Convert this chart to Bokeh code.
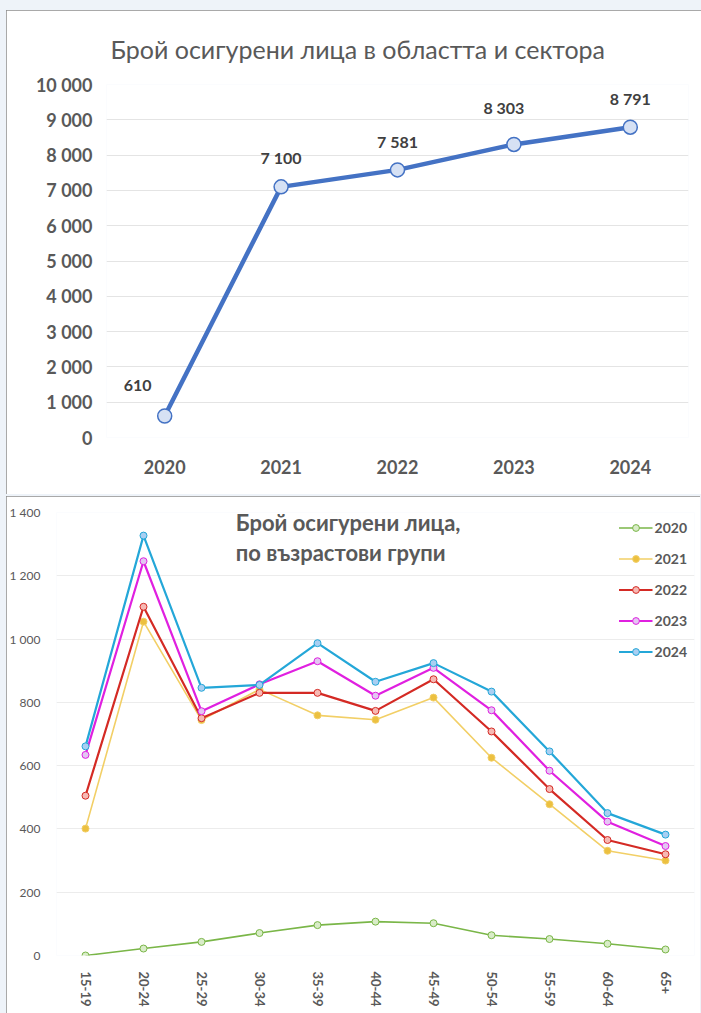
from bokeh.plotting import figure
from bokeh.layouts import column
from bokeh.models import (ColumnDataSource, FactorRange, Range1d, FixedTicker,
                          Legend, LegendItem, Label)
from bokeh.core.properties import value
from bokeh.embed import file_html
from bokeh.resources import INLINE

# --- Insured persons in the region and sector, by year ---
years = ["2020", "2021", "2022", "2023", "2024"]
insured_total = [610, 7100, 7581, 8303, 8791]

total_ticks = [0, 1000, 2000, 3000, 4000, 5000, 6000, 7000, 8000, 9000, 10000]
total_tick_labels = ["0", "1 000", "2 000", "3 000", "4 000", "5 000",
                     "6 000", "7 000", "8 000", "9 000", "10 000"]

# --- Insured persons by age group ---
age_groups = ["15-19", "20-24", "25-29", "30-34", "35-39", "40-44",
              "45-49", "50-54", "55-59", "60-64", "65+"]
by_age_2020 = [0, 22, 43, 71, 96, 107, 102, 64, 52, 37, 19]
by_age_2021 = [401, 1055, 744, 841, 759, 745, 815, 625, 478, 331, 300]
by_age_2022 = [505, 1102, 750, 830, 830, 773, 873, 708, 526, 365, 320]
by_age_2023 = [634, 1246, 772, 857, 930, 821, 909, 775, 584, 423, 346]
by_age_2024 = [661, 1327, 846, 855, 987, 865, 924, 834, 645, 450, 382]

age_ticks = [0, 200, 400, 600, 800, 1000, 1200, 1400]
age_tick_labels = ["0", "200", "400", "600", "800", "1 000", "1 200", "1 400"]

FONT = "Lato"
GREY = "#595959"
PANEL_STYLE = {"outline": "1.5px solid #8c8c8c", "outline-offset": "-1.5px"}


def fmt_thousands(v):
    return f"{v:,}".replace(",", " ")


# ================= top chart =================
p1 = figure(width=695, height=484, x_range=FactorRange(*years),
            y_range=Range1d(0, 10000), output_backend="svg",
            toolbar_location=None, min_border_left=100, min_border_right=13,
            min_border_top=74, min_border_bottom=57,
            margin=(10, 0, 0, 6), styles=PANEL_STYLE)
p1.frame_align = False
p1.outline_line_color = None
p1.background_fill_color = "white"
p1.border_fill_color = "white"

p1.title.text = "Брой осигурени лица в областта и сектора"
p1.title.text_font = FONT
p1.title.text_font_size = "25px"
p1.title.text_font_style = "normal"
p1.title.text_color = GREY
p1.title.align = "left"
p1.title.offset = 4
p1.title.standoff = 42

p1.xgrid.grid_line_color = None
p1.ygrid.grid_line_color = "#e4e4e4"
p1.ygrid.grid_line_width = 1

p1.yaxis.ticker = FixedTicker(ticks=total_ticks)
p1.yaxis.major_label_overrides = dict(zip(total_ticks, total_tick_labels))
for ax in (p1.xaxis[0], p1.yaxis[0]):
    ax.axis_line_color = None
    ax.major_tick_line_color = None
    ax.minor_tick_line_color = None
    ax.major_label_text_font = FONT
    ax.major_label_text_font_size = "18px"
    ax.major_label_text_font_style = "bold"
    ax.major_label_text_color = GREY
p1.yaxis.major_label_standoff = 8
p1.xaxis.major_label_standoff = 16

src1 = ColumnDataSource(dict(
    x=years, y=insured_total,
    label=[fmt_thousands(v) for v in insured_total],
))
p1.line("x", "y", source=src1, line_color="#4472C4", line_width=4.5)
p1.scatter("x", "y", source=src1, size=14, fill_color="#d6e1f4",
           line_color="#4472C4", line_width=1.5)

# value labels: the first one sits up-left of its point, the rest above
label_dx = [-27, 0, 0, -10, 0]
label_dy = [-30, -29, -28, -37, -29]
for i in range(len(years)):
    p1.text(x=[years[i]], y=[insured_total[i]], text=[src1.data["label"][i]],
            x_offset=label_dx[i], y_offset=label_dy[i],
            text_align="center", text_baseline="middle",
            text_font=value(FONT), text_font_size="16px",
            text_font_style="bold", text_color="#404040")

# ================= bottom chart =================
p2 = figure(width=694, height=517, x_range=FactorRange(*age_groups),
            y_range=Range1d(0, 1400), output_backend="svg",
            toolbar_location=None, min_border_left=48, min_border_right=6,
            min_border_top=16, min_border_bottom=58,
            margin=(2, 0, 0, 6), styles=PANEL_STYLE)
p2.frame_align = False
p2.outline_line_color = None
p2.background_fill_color = "white"
p2.border_fill_color = "white"

p2.xgrid.grid_line_color = None
p2.ygrid.grid_line_color = "#ececec"

p2.yaxis.ticker = FixedTicker(ticks=age_ticks)
p2.yaxis.major_label_overrides = dict(zip(age_ticks, age_tick_labels))
for ax in (p2.xaxis[0], p2.yaxis[0]):
    ax.axis_line_color = None
    ax.major_tick_line_color = None
    ax.minor_tick_line_color = None
    ax.major_label_text_font = FONT
    ax.major_label_text_color = GREY
p2.yaxis.major_label_text_font_size = "12px"
p2.yaxis.major_label_standoff = 10
p2.xaxis.major_label_text_font_size = "13px"
p2.xaxis.major_label_text_font_style = "bold"
p2.xaxis.major_label_orientation = "vertical"
p2.xaxis.major_label_standoff = 10

series = [
    ("2020", by_age_2020, "#7ab648", "#d9ecc8", 1.6),
    ("2021", by_age_2021, "#f2cf66", "#ecc040", 1.6),
    ("2022", by_age_2022, "#d42a24", "#f6b9b4", 2.2),
    ("2023", by_age_2023, "#e020e0", "#e3c6f2", 2.2),
    ("2024", by_age_2024, "#24a7d8", "#a9cff2", 2.2),
]
items = []
for name, vals, color, fill, lw in series:
    src = ColumnDataSource(dict(x=age_groups, y=vals))
    r_line = p2.line("x", "y", source=src, line_color=color, line_width=lw)
    r_dot = p2.scatter("x", "y", source=src, size=7, fill_color=fill,
                       line_color=color, line_width=1)
    items.append(LegendItem(label=name, renderers=[r_line, r_dot]))

legend = Legend(items=items, location="top_right")
legend.label_text_font = FONT
legend.label_text_font_size = "14px"
legend.label_text_font_style = "bold"
legend.label_text_color = GREY
legend.glyph_width = 34
legend.glyph_height = 17
legend.label_height = 17
legend.label_standoff = 2
legend.spacing = 14
legend.padding = 0
legend.margin = 7
legend.border_line_color = None
legend.background_fill_alpha = 0
p2.add_layout(legend)

for txt, yv in (("Брой осигурени лица,", 1369), ("по възрастови групи", 1275)):
    p2.add_layout(Label(x=3.09, y=yv, text=txt, text_baseline="middle",
                        text_align="left", text_font=FONT,
                        text_font_size="22px", text_font_style="bold",
                        text_color=GREY))

layout = column(p1, p2, width=701, height=1013,
                styles={"background-color": "#eef3f9"})

open("out.html", "w").write(file_html(layout, INLINE))
